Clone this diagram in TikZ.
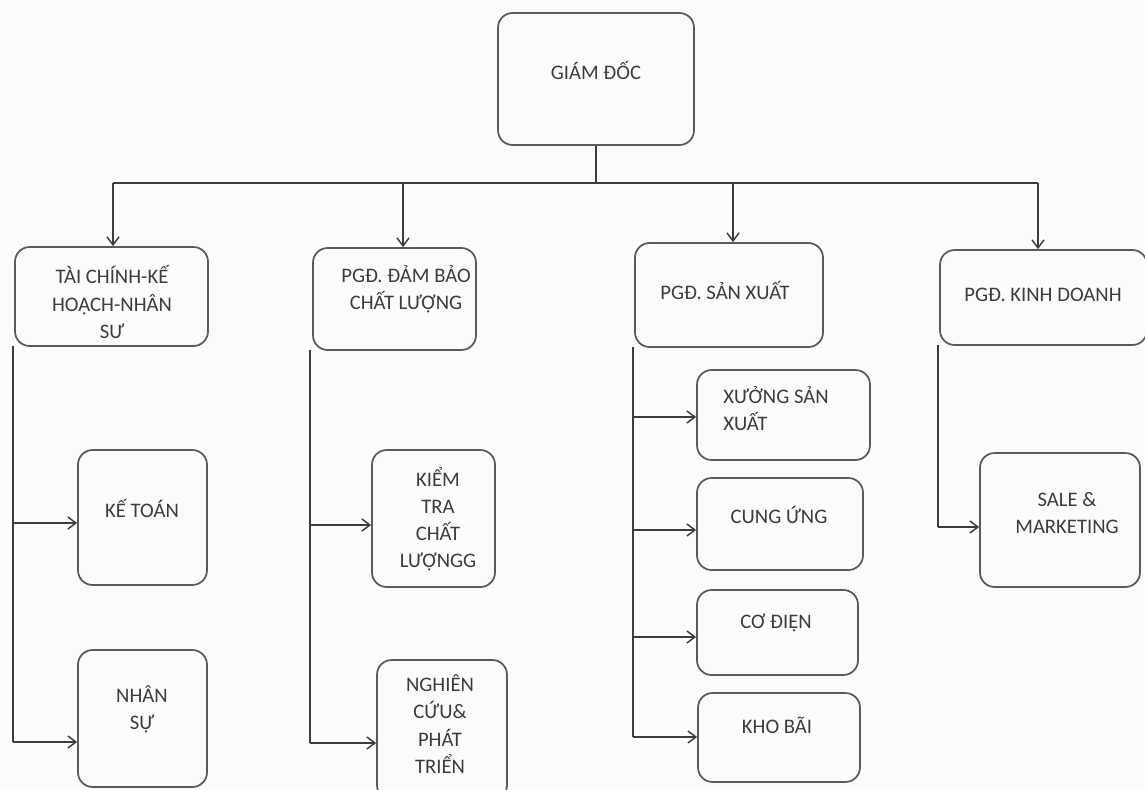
\documentclass[tikz,border=0pt]{standalone}
\usepackage{fontspec}
\setmainfont{Carlito}
\usetikzlibrary{arrows.meta,fit}
\definecolor{ink}{HTML}{3C3C3C}
\definecolor{edge}{HTML}{5A5A5A}
\definecolor{paper}{HTML}{FBFBFA}
\begin{document}
\begin{tikzpicture}[x=0.75pt,y=-0.75pt,
  box/.style={draw=edge,line width=1.3pt,rounded corners=11pt,inner sep=0pt},
  txt/.style={text=ink,font=\fontsize{15.5}{20.3}\selectfont,align=center,inner sep=0pt},
  ln/.style={draw=ink,line width=1.1pt},
  arr/.style={ln,-{Straight Barb[length=6pt,width=9pt,line width=1.1pt]}}]
\fill[paper] (0,0) rectangle (1145,789);
\clip (0,0) rectangle (1145,789);
\useasboundingbox (0,0) rectangle (1145,789);
% boxes
\node[box,fit={(498,13) (694,145)}] (gd) {};
\node[box,fit={(15,247) (208,346)}] (tc) {};
\node[box,fit={(313,248) (476,350)}] (db) {};
\node[box,fit={(635,243) (823,347)}] (sx) {};
\node[box,fit={(940,250) (1147,345)}] (kd) {};
\node[box,fit={(78,450) (207,585)}] (kt) {};
\node[box,fit={(78,650) (207,787)}] (ns) {};
\node[box,fit={(372,450) (495,587)}] (ktcl) {};
\node[box,fit={(377,660) (507,800)}] (nc) {};
\node[box,fit={(697,370) (870,460)}] (xs) {};
\node[box,fit={(697,478) (863,570)}] (cu) {};
\node[box,fit={(697,590) (858,675)}] (cd) {};
\node[box,fit={(698,693) (860,782)}] (kb) {};
\node[box,fit={(980,453) (1140,587)}] (sale) {};
% texts
\node[txt] (gdt) at (596,70) {GIÁM ĐỐC};
\node[txt] (tct) at (112,302) {TÀI CHÍNH-KẾ\\HOẠCH-NHÂN\\SƯ};
\node[txt] (dbt) at (406,289) {PGĐ. ĐẢM BẢO\\CHẤT LƯỢNG};
\node[txt] (sxt) at (725,290) {PGĐ. SẢN XUẤT};
\node[txt] (kdt) at (1043,295) {PGĐ. KINH DOANH};
\node[txt] (ktt) at (142,508) {KẾ TOÁN};
\node[txt] (nst) at (142,709) {NHÂN\\SỰ};
\node[txt] (ktclt) at (438,519) {KIỂM\\TRA\\CHẤT\\LƯỢNGG};
\node[txt] (nct) at (440,724) {NGHIÊN\\CỨU\&\\PHÁT\\TRIỂN};
\node[txt,align=left] (xst) at (776,409) {XƯỞNG SẢN\\XUẤT};
\node[txt] (cut) at (779,515) {CUNG ỨNG};
\node[txt] (cdt) at (776,623) {CƠ ĐIỆN};
\node[txt] (kbt) at (777,725) {KHO BÃI};
\node[txt] (salet) at (1067,513) {SALE \&\\MARKETING};
% bus
\coordinate (stem) at (gd.south);
\coordinate (b1) at (113,183);
\coordinate (b2) at (403,183);
\coordinate (b3) at (733,183);
\coordinate (b4) at (1038,183);
\draw[ln] (stem) -- (stem |- b1);
\draw[ln] (b1) -- (b4);
\draw[arr] (b1) -- (b1 |- tc.north);
\draw[arr] (b2) -- (b2 |- db.north);
\draw[arr] (b3) -- (b3 |- sx.north);
\draw[arr] (b4) -- (b4 |- kd.north);
% column 1
\coordinate (c1t) at (13,346);
\coordinate (c1a) at (13,523);
\coordinate (c1b) at (13,742);
\draw[ln] (c1t) -- (c1b);
\draw[arr] (c1a) -- (c1a -| kt.west);
\draw[arr] (c1b) -- (c1b -| ns.west);
% column 2
\coordinate (c2t) at (310,350);
\coordinate (c2a) at (310,525);
\coordinate (c2b) at (310,743);
\draw[ln] (c2t) -- (c2b);
\draw[arr] (c2a) -- (c2a -| ktcl.west);
\draw[arr] (c2b) -- (c2b -| nc.west);
% column 3
\coordinate (c3t) at (633,347);
\coordinate (c3a) at (633,417);
\coordinate (c3b) at (633,530);
\coordinate (c3c) at (633,637);
\coordinate (c3d) at (633,737);
\draw[ln] (c3t) -- (c3d);
\draw[arr] (c3a) -- (c3a -| xs.west);
\draw[arr] (c3b) -- (c3b -| cu.west);
\draw[arr] (c3c) -- (c3c -| cd.west);
\draw[arr] (c3d) -- (c3d -| kb.west);
% column 4
\coordinate (c4t) at (938,345);
\coordinate (c4a) at (938,527);
\draw[ln] (c4t) -- (c4a);
\draw[arr] (c4a) -- (c4a -| sale.west);
\end{tikzpicture}
\end{document}
